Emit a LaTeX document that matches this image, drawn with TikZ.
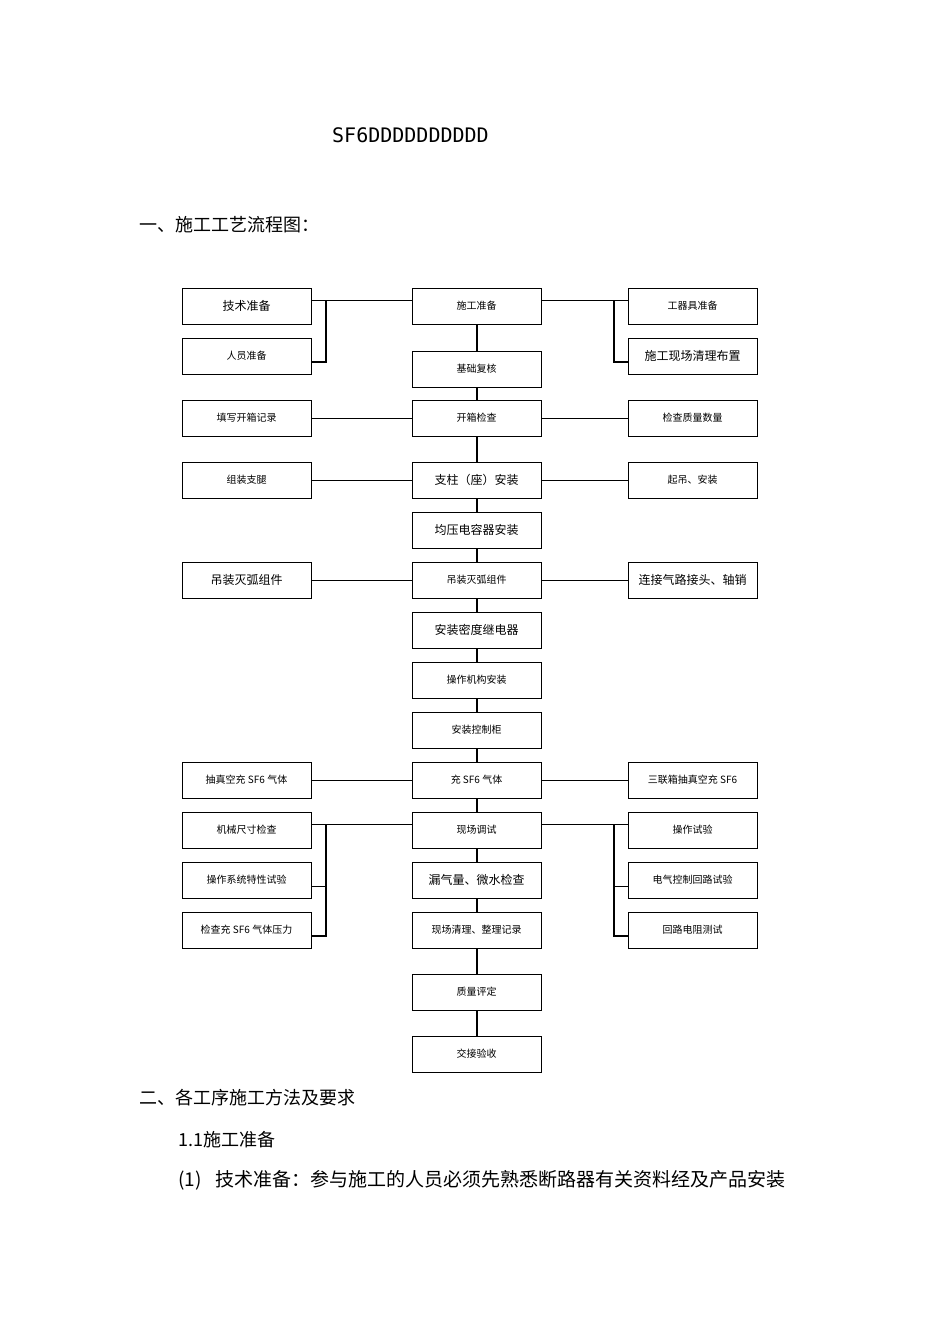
\documentclass[tikz,border=0pt]{standalone}
\usepackage{fontspec}
\setmainfont{Liberation Serif}
\newfontfamily\cjk{Noto Sans CJK SC}
\newfontfamily\monof{DejaVu Sans Mono}
\begin{document}
\begin{tikzpicture}[x=1pt,y=-1pt,
  bx/.style={draw,line width=1pt,minimum width=129pt,minimum height=36pt,inner sep=1pt,font=\cjk\fontsize{10}{12}\selectfont,fill=white},
  bl/.style={bx,font=\cjk\fontsize{12}{14}\selectfont},
  ln/.style={line width=0.8pt},
  tk/.style={line width=2pt}]
\useasboundingbox (0,0) rectangle (950,1344);
\node[font=\monof\fontsize{20}{22}\selectfont,anchor=west,inner sep=0pt] (title) at (332,135) {SF6DDDDDDDDDD};
\node[font=\cjk\fontsize{18}{20}\selectfont,anchor=west,inner sep=0pt] (h1) at (139,225) {一、施工工艺流程图：};
% center chain
\def\L{246.5}\def\C{476.5}\def\R{692.5}
\coordinate (top) at (\C,306);
\coordinate (bot) at (\C,1054);
\draw[tk] (top) -- (bot);
\node[bx] (c1) at (\C,306) {施工准备};
\node[bx] (c2) at (\C,369) {基础复核};
\node[bx] (c3) at (\C,418) {开箱检查};
\node[bl] (c4) at (\C,480) {支柱（座）安装};
\node[bl] (c5) at (\C,530) {均压电容器安装};
\node[bx] (c6) at (\C,580) {吊装灭弧组件};
\node[bl] (c7) at (\C,630) {安装密度继电器};
\node[bx] (c8) at (\C,680) {操作机构安装};
\node[bx] (c9) at (\C,730) {安装控制柜};
\node[bx] (c10) at (\C,780) {充 SF6 气体};
\node[bx] (c11) at (\C,830) {现场调试};
\node[bl] (c12) at (\C,880) {漏气量、微水检查};
\node[bx] (c13) at (\C,930) {现场清理、整理记录};
\node[bx] (c14) at (\C,992) {质量评定};
\node[bx] (c15) at (\C,1054) {交接验收};
% left/right
\node[bl] (l1) at (\L,306) {技术准备};
\node[bx] (l2) at (\L,356) {人员准备};
\node[bx] (r1) at (\R,306) {工器具准备};
\node[bl] (r2) at (\R,356) {施工现场清理布置};
\node[bx] (l3) at (\L,418) {填写开箱记录};
\node[bx] (r3) at (\R,418) {检查质量数量};
\node[bx] (l4) at (\L,480) {组装支腿};
\node[bx] (r4) at (\R,480) {起吊、安装};
\node[bl] (l6) at (\L,580) {吊装灭弧组件};
\node[bl] (r6) at (\R,580) {连接气路接头、轴销};
\node[bx] (l10) at (\L,780) {抽真空充 SF6 气体};
\node[bx] (r10) at (\R,780) {三联箱抽真空充 SF6};
\node[bx] (l11) at (\L,830) {机械尺寸检查};
\node[bx] (l12) at (\L,880) {操作系统特性试验};
\node[bx] (l13) at (\L,930) {检查充 SF6 气体压力};
\node[bx] (r11) at (\R,830) {操作试验};
\node[bx] (r12) at (\R,880) {电气控制回路试验};
\node[bx] (r13) at (\R,930) {回路电阻测试};
% side connectors
\draw[ln] (l1.east |- 0,300) -- (c1.west |- 0,300);
\draw[ln] (c1.east |- 0,300) -- (r1.west |- 0,300);
\draw[tk] (326,300) -- (326,362) -- (l2.east |- 0,362);
\draw[tk] (614,300) -- (614,362) -- (r2.west |- 0,362);
\foreach \n in {3,4,6,10}{
  \draw[ln] (l\n) -- (c\n);
  \draw[ln] (c\n) -- (r\n);
}
\draw[ln] (l11.east |- 0,824) -- (c11.west |- 0,824);
\draw[ln] (c11.east |- 0,824) -- (r11.west |- 0,824);
\draw[tk] (326,824) -- (326,936) -- (l13.east |- 0,936);
\draw[ln] (326,886) -- (l12.east |- 0,886);
\draw[tk] (614,824) -- (614,936) -- (r13.west |- 0,936);
\draw[ln] (614,886) -- (r12.west |- 0,886);
\node[bx] at (c1) {施工准备};
\node[bx] at (c3) {开箱检查};
\node[bl] at (c4) {支柱（座）安装};
\node[bx] at (c6) {吊装灭弧组件};
\node[bx] at (c10) {充 SF6 气体};
\node[bx] at (c11) {现场调试};
% text below
\node[font=\cjk\fontsize{18}{20}\selectfont,anchor=west,inner sep=0pt] (h2) at (139,1098) {二、各工序施工方法及要求};
\node[font=\cjk\fontsize{18}{20}\selectfont,anchor=west,inner sep=0pt] (h3) at (178,1140) {1.1施工准备};
\node[font=\cjk\fontsize{19}{21}\selectfont,anchor=west,inner sep=0pt] (p1) at (178,1180) {(1)\hspace{14pt}技术准备：参与施工的人员必须先熟悉断路器有关资料经及产品安装};
\end{tikzpicture}
\end{document}
